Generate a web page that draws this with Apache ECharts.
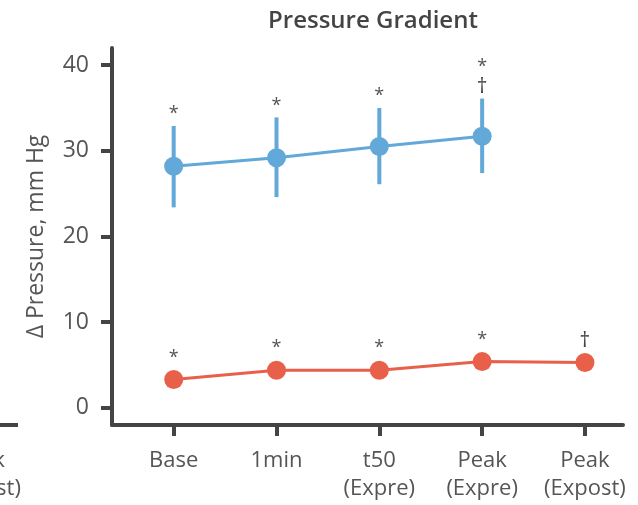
<!DOCTYPE html>
<html><head><meta charset="utf-8">
<script src="https://cdn.jsdelivr.net/npm/echarts@6/dist/echarts.min.js"></script>
<style>html,body{margin:0;padding:0;background:#fff}#c{width:638px;height:505px}</style>
</head><body><div id="c"></div>
<script>
const categories = ['Base', '1min', 't50\n(Expre)', 'Peak\n(Expre)', 'Peak\n(Expost)'];
const yTicks = [0, 10, 20, 30, 40];
const xTicks = [0, 1, 2, 3, 4];
const blueMean = [28.2, 29.2, 30.5, 31.7, null];
const blueLow = [23.4, 24.6, 26.1, 27.4, null];
const blueHigh = [32.9, 33.9, 35.0, 36.1, null];
const blueMarks = ['*', '*', '*', '*\n†', ''];
const redMean = [3.3, 4.4, 4.4, 5.4, 5.3];
const redMarks = ['*', '*', '*', '*', '†'];

const BLUE = '#62a8d9', RED = '#e9604a', AX = '#444444', TXT = '#555555';
const FONT = 'Open Sans';

function markTexts(str, x, anchorY) {
  const lines = str.split('\n').filter(s => s.length);
  const out = [];
  let y = anchorY;
  for (let k = lines.length - 1; k >= 0; k--) {
    const ch = lines[k];
    const isStar = ch === '*';
    const gap = isStar ? (k === lines.length - 1 ? 17 : 24) : 13;
    y = y - gap;
    out.push({
      type: 'text',
      style: {
        x: x, y: y + (isStar ? 5 : 1), text: ch, fill: isStar ? TXT : '#444',
        font: (isStar ? '18px' : '21px') + ' "' + FONT + '"', align: 'center', verticalAlign: 'middle'
      }
    });
  }
  return out;
}

const chart = echarts.init(document.getElementById('c'));
chart.setOption({
  animation: false,
  title: {
    text: 'Pressure Gradient', left: 368, top: 4, textAlign: 'center',
    textStyle: { fontFamily: FONT, fontSize: 24, fontWeight: 600, color: AX }
  },
  grid: { left: 112, right: 15, top: 48, bottom: 80, containLabel: false },
  xAxis: {
    type: 'value', min: -0.6, max: 4.37,
    axisLine: { show: true, onZero: false, lineStyle: { color: AX, width: 4 } },
    axisTick: { show: true, customValues: xTicks, length: 11, lineStyle: { color: AX, width: 4 } },
    axisLabel: {
      customValues: xTicks, margin: 22, color: TXT, fontFamily: FONT, fontSize: 22, lineHeight: 28,
      formatter: v => categories[v]
    },
    splitLine: { show: false }
  },
  yAxis: {
    type: 'value', min: -2, max: 42,
    name: 'Δ Pressure, mm Hg', nameLocation: 'middle', nameGap: 64,
    nameTextStyle: { color: TXT, fontFamily: FONT, fontSize: 23 },
    axisLine: { show: true, onZero: false, lineStyle: { color: AX, width: 4 } },
    axisTick: { show: true, customValues: yTicks, length: 11, lineStyle: { color: AX, width: 4 } },
    axisLabel: { customValues: yTicks, margin: 23, color: TXT, fontFamily: FONT, fontSize: 23 },
    splitLine: { show: false }
  },
  graphic: [
    { type: 'line', shape: { x1: 0, y1: 425, x2: 18, y2: 425 }, style: { stroke: AX, lineWidth: 4 } },
    { type: 'text', x: -20, y: 447, style: { text: categories[4], fill: TXT, font: '22px "' + FONT + '"', align: 'center', lineHeight: 28 } }
  ],
  series: [
    {
      type: 'custom', z: 3,
      data: blueMean.map((m, i) => m == null ? null : [i, blueLow[i], blueHigh[i]]).filter(d => d),
      renderItem: (params, api) => {
        const x = api.value(0);
        const lo = api.coord([x, api.value(1)]);
        const hi = api.coord([x, api.value(2)]);
        return {
          type: 'group', children: [
            { type: 'line', shape: { x1: lo[0], y1: lo[1], x2: hi[0], y2: hi[1] }, style: { stroke: BLUE, lineWidth: 4 } }
          ].concat(markTexts(blueMarks[x], hi[0], hi[1]))
        };
      }
    },
    {
      type: 'line', z: 4,
      data: blueMean.map((m, i) => [i, m]).filter(d => d[1] != null),
      symbol: 'circle', symbolSize: 19, lineStyle: { color: BLUE, width: 3 }, itemStyle: { color: BLUE }
    },
    {
      type: 'line', z: 4,
      data: redMean.map((m, i) => [i, m]),
      symbol: 'circle', symbolSize: 19, lineStyle: { color: RED, width: 3 }, itemStyle: { color: RED }
    },
    {
      type: 'custom', z: 5,
      data: redMean.map((m, i) => [i, m]),
      renderItem: (params, api) => {
        const x = api.value(0);
        const p = api.coord([x, api.value(1)]);
        const s = redMarks[x];
        const lift = s === '†' ? 22 : 27;
        return { type: 'group', children: markTexts(s, p[0], p[1] - lift + (s === '†' ? 13 : 17)) };
      }
    }
  ]
});
</script></body></html>
